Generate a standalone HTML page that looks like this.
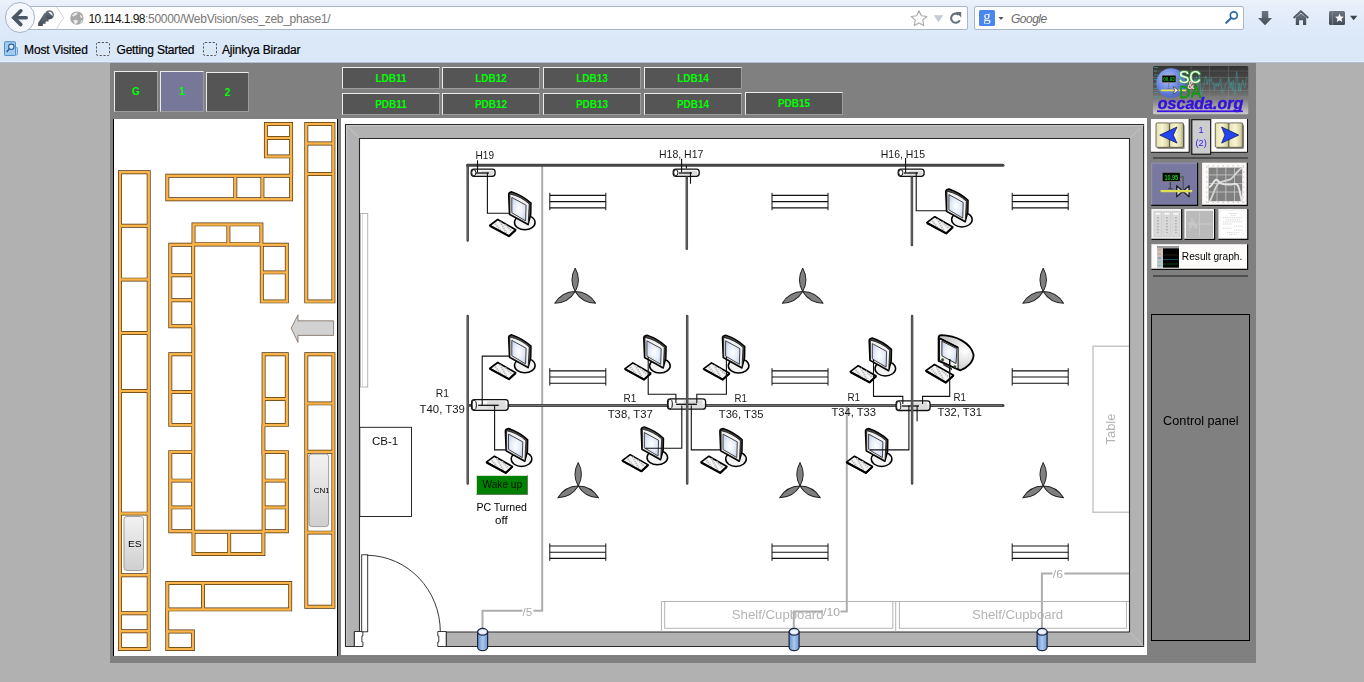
<!DOCTYPE html><html><head><meta charset="utf-8"><title>WebVision</title><style>
*{box-sizing:border-box;margin:0;padding:0}
html,body{width:1364px;height:682px;overflow:hidden;background:#b1b1b1;font-family:"Liberation Sans",Arial,sans-serif}
#chrome{position:absolute;left:0;top:0;width:1364px;height:63px;background:linear-gradient(#edf3fb 0,#e6eefa 8px,#deeaf9 30px,#dbe8f8 40px,#d9e7f7 63px)}
.abs{position:absolute}
#urlbar{position:absolute;left:22px;top:6px;width:946px;height:24px;background:#fff;border:1px solid #a9b7c9;border-radius:2px}
#searchbar{position:absolute;left:974px;top:6px;width:270px;height:24px;background:#fff;border:1px solid #a9b7c9;border-radius:2px}
#back{position:absolute;left:4.5px;top:2.3px;width:30.6px;height:30.6px;border-radius:50%;background:#f4f8fd;border:1px solid #a5b3c6}
.url{position:absolute;left:88.5px;top:12px;font-size:12px;line-height:14px;color:#111;white-space:nowrap;letter-spacing:-0.05px}
.url span{color:#777}
.bm{position:absolute;top:42.5px;font-size:12px;line-height:14px;color:#000;white-space:nowrap;-webkit-text-stroke:0.2px #000}
#page{position:absolute;left:110px;top:63px;width:1146px;height:600px;background:#808080}
.tb{position:absolute;background:#555;border:1px solid #ececec;border-right-color:#9c9c9c;border-bottom-color:#9c9c9c;color:#00ff00;font-weight:bold;font-size:10px;text-align:center}
svg{position:absolute;left:0;top:0;will-change:transform}
svg text{font-family:"Liberation Sans",Arial,sans-serif}
svg text.serif{font-family:"Liberation Serif",serif}
</style></head><body>
<div id="page"></div>
<div id="chrome">
<div class="abs" style="left:0;top:61px;width:1364px;height:1px;background:#e2eefb"></div><div class="abs" style="left:0;top:62px;width:1364px;height:1px;background:#adc0d8"></div><div id="urlbar"></div><div id="searchbar"></div><div id="back"></div>
<div class="url"><b style="font-weight:normal;letter-spacing:-0.55px">10.114.1.98</b><span style="letter-spacing:-0.28px">:50000/WebVision/ses_zeb_phase1/</span></div>
<div class="bm" style="left:24px;letter-spacing:-0.12px">Most Visited</div>
<div class="bm" style="left:116.5px;letter-spacing:-0.2px">Getting Started</div>
<div class="bm" style="left:222px;letter-spacing:-0.16px">Ajinkya Biradar</div>
<div class="abs" style="left:1011px;top:12px;font-size:12px;line-height:14px;font-style:italic;color:#6a6a6a;letter-spacing:-0.5px">Google</div>
</div>
<svg width="1364" height="63" viewBox="0 0 1364 63"><defs><linearGradient id="slate" x1="0" y1="0" x2="0" y2="1"><stop offset="0" stop-color="#6c7783"/><stop offset="1" stop-color="#434c56"/></linearGradient></defs><path d="M20.800 10.800 L13.800 17.700 L20.800 24.600 M14.500 17.700 H26.200" stroke="#4a5663" stroke-width="3.6" fill="none" stroke-linecap="round" stroke-linejoin="miter"/><path d="M44.600 12.800 L38.100 23 V26 H42.800 V23.800 H45.600 V21.400 H48.500 V19.400 L52 18.600 Z" fill="url(#slate)"/><circle cx="49.400" cy="14.800" r="4.500" fill="url(#slate)"/><path d="M48.300 11.900 A3.400 3.400 0 0 1 52.600 15.900 Z" fill="#fff"/><path d="M56.400 6.800 L63.700 17.700 L56.400 28.800" stroke="#cfd2d6" stroke-width="1" fill="none"/><circle cx="76.900" cy="18.100" r="6.700" fill="#a8a8a8"/><path d="M72 15.500 q2.500 -3.500 6 -3 q-1 2.500 -3 3 q-1.500 2 -3 0 M80.500 14.500 q2 1.500 2 4 q-1.500 -0.500 -2.500 -2 Z M73.500 20.500 q2.500 -1.500 4.500 0.500 q-0.500 2.500 -2.500 3 q-2 -1 -2 -3.500 M81 20.500 q1 0 1.500 -0.500 q-0.500 2 -2 3 Z" fill="#ececec"/><polygon points="919.0,10.8 921.3,15.8 926.8,16.5 922.7,20.2 923.8,25.6 919.0,22.9 914.2,25.6 915.3,20.2 911.2,16.5 916.7,15.8" fill="#fdfdfd" stroke="#ababab" stroke-width="1.1" stroke-linejoin="round"/><path d="M933.8 15.2 h9.4 l-4.7 7z" fill="#c3cad5"/><path d="M958.6 14.6 A4.6 4.6 0 1 0 959.8 20.3" stroke="#66717d" stroke-width="2.1" fill="none"/><path d="M955.6 12 h5.6 v5.4 z" fill="#66717d"/><rect x="979" y="10" width="16" height="16" rx="1.5" fill="#4a86f0"/><text x="987" y="21.2" font-size="15" fill="#fff" text-anchor="middle" class="serif">g</text><path d="M998.5 17 h5 l-2.5 3z" fill="#555"/><circle cx="1233.800" cy="15.300" r="3.500" stroke="#2d6cab" stroke-width="1.7" fill="none"/><path d="M1231.200 18 L1226.200 22.800" stroke="#2d6cab" stroke-width="2.1" stroke-linecap="round"/><path d="M1261.8 11 h6.500 v7 h3.800 l-7.050 7.300 l-7.050 -7.300 h3.800z" fill="url(#slate)"/><path d="M1293.600 18 L1300.900 11.300 L1308.300 18" fill="none" stroke="#515b67" stroke-width="2"/><path d="M1295.800 17.500 L1300.900 13.400 L1306.200 17.500 V24.900 H1303 V20.200 H1299.100 V24.900 H1295.800Z" fill="url(#slate)"/><rect x="1329" y="11" width="16" height="14" rx="1.500" fill="url(#slate)"/><rect x="1332" y="11" width="0.700" height="14" fill="#8a939d"/><polygon points="1339.5,13.6 1340.7,16.5 1343.9,16.8 1341.5,18.8 1342.2,21.9 1339.5,20.3 1336.8,21.9 1337.5,18.8 1335.1,16.8 1338.3,16.5" fill="#fff"/><path d="M1350 15.800 h7.300 l-3.650 4.400z" fill="#3c444d"/><rect x="15" y="47.500" width="2.500" height="7.500" rx="0.800" fill="#b4d3f0" stroke="#5c97cf" stroke-width=".8"/><rect x="4.500" y="41.700" width="11" height="13.800" rx="0.800" fill="#a3c9ed" stroke="#4f90cb" stroke-width="1"/><circle cx="11.300" cy="46.800" r="2.700" fill="#dcebf9" stroke="#2f5f94" stroke-width="1.100"/><path d="M9.400 48.800 L6.600 52" stroke="#2f5f94" stroke-width="1.500"/><rect x="96.5" y="42.5" width="13" height="13" rx="1.5" fill="none" stroke="#555" stroke-width="1" stroke-dasharray="2.2 1.6"/><rect x="203.5" y="42.5" width="13" height="13" rx="1.5" fill="none" stroke="#555" stroke-width="1" stroke-dasharray="2.2 1.6"/></svg>
<div class="tb" style="left:114px;top:71px;width:44px;height:41px;line-height:39px;">G</div>
<div class="tb" style="left:160px;top:71px;width:44px;height:41px;line-height:39px;background:#777799;">1</div>
<div class="tb" style="left:206px;top:72px;width:43px;height:40px;line-height:39px;">2</div>
<div class="tb" style="left:342px;top:67px;width:98px;height:22px;line-height:22px;">LDB11</div>
<div class="tb" style="left:342px;top:93px;width:98px;height:22px;line-height:22px;">PDB11</div>
<div class="tb" style="left:442px;top:67px;width:98px;height:22px;line-height:22px;">LDB12</div>
<div class="tb" style="left:442px;top:93px;width:98px;height:22px;line-height:22px;">PDB12</div>
<div class="tb" style="left:543px;top:67px;width:98px;height:22px;line-height:22px;">LDB13</div>
<div class="tb" style="left:543px;top:93px;width:98px;height:22px;line-height:22px;">PDB13</div>
<div class="tb" style="left:644px;top:67px;width:98px;height:22px;line-height:22px;">LDB14</div>
<div class="tb" style="left:644px;top:93px;width:98px;height:22px;line-height:22px;">PDB14</div>
<div class="tb" style="left:745px;top:92px;width:98px;height:22.5px;line-height:22.5px;">PDB15</div>
<svg width="1364" height="682" viewBox="0 0 1364 682" style="pointer-events:none"><defs><linearGradient id="gbox" x1="0" y1="0" x2="0" y2="1"><stop offset="0" stop-color="#f2f2f2"/><stop offset="1" stop-color="#cfcfcf"/></linearGradient></defs><rect x="113" y="119" width="225" height="537" fill="#fff"/><rect x="113" y="119" width="1" height="537" fill="#000"/><rect x="337" y="119" width="1" height="537" fill="#000"/><path d="M265.9 124.0 H291.1 V156.4 H265.9 Z M265.9 138.0 H291.1 M167.3 175.8 H291.1 V199.2 H167.3 Z M235.3 175.8 V199.2 M262.4 175.8 V199.2 M291.2 156 V176 M306.3 124.0 H333.4 V301.4 H306.3 Z M306.3 143.5 H333.4 M306.3 174.0 H333.4 M120.0 172.3 H148.7 V649.0 H120.0 Z M120.0 225.8 H148.7 M120.0 279.6 H148.7 M120.0 333.0 H148.7 M120.0 391.0 H148.7 M120.0 513.6 H148.7 M120.0 575.2 H148.7 M120.0 613.2 H148.7 M120.0 631.2 H148.7 M193.5 224.4 H261.4 V244.1 H193.5 Z M228.4 224.4 V244.1 M170.3 244.8 H193.2 V326.2 H170.3 Z M170.3 275.3 H193.2 M170.3 300.2 H193.2 M170.3 354.2 H193.2 V424.9 H170.3 Z M170.3 392.0 H193.2 M170.3 452.1 H193.2 V531.2 H170.3 Z M170.3 480.6 H193.2 M170.3 507.4 H193.2 M193.3 326 V455 M261.8 244.8 H286.8 V301.4 H261.8 Z M261.8 272.4 H286.8 M263.6 354.2 H286.8 V424.9 H263.6 Z M263.6 399.0 H286.8 M263.6 452.1 H286.8 V531.2 H263.6 Z M263.6 480.6 H286.8 M263.6 507.4 H286.8 M263.4 425 V455 M193 244.5 H262 M193.5 531.8 H263.4 V554.0 H193.5 Z M229.2 531.8 V554.0 M306.3 354.2 H333.4 V606.8 H306.3 Z M306.3 403.4 H333.4 M306.3 451.8 H333.4 M306.3 532.6 H333.4 M167.3 583.0 H290.2 V609.4 H167.3 Z M203.0 583.0 V609.4 M167.3 631.5 H192.9 V649.0 H167.3 Z M167.2 609 V632" fill="none" stroke="#4f3512" stroke-width="3.9" stroke-linejoin="miter"/><path d="M265.9 124.0 H291.1 V156.4 H265.9 Z M265.9 138.0 H291.1 M167.3 175.8 H291.1 V199.2 H167.3 Z M235.3 175.8 V199.2 M262.4 175.8 V199.2 M291.2 156 V176 M306.3 124.0 H333.4 V301.4 H306.3 Z M306.3 143.5 H333.4 M306.3 174.0 H333.4 M120.0 172.3 H148.7 V649.0 H120.0 Z M120.0 225.8 H148.7 M120.0 279.6 H148.7 M120.0 333.0 H148.7 M120.0 391.0 H148.7 M120.0 513.6 H148.7 M120.0 575.2 H148.7 M120.0 613.2 H148.7 M120.0 631.2 H148.7 M193.5 224.4 H261.4 V244.1 H193.5 Z M228.4 224.4 V244.1 M170.3 244.8 H193.2 V326.2 H170.3 Z M170.3 275.3 H193.2 M170.3 300.2 H193.2 M170.3 354.2 H193.2 V424.9 H170.3 Z M170.3 392.0 H193.2 M170.3 452.1 H193.2 V531.2 H170.3 Z M170.3 480.6 H193.2 M170.3 507.4 H193.2 M193.3 326 V455 M261.8 244.8 H286.8 V301.4 H261.8 Z M261.8 272.4 H286.8 M263.6 354.2 H286.8 V424.9 H263.6 Z M263.6 399.0 H286.8 M263.6 452.1 H286.8 V531.2 H263.6 Z M263.6 480.6 H286.8 M263.6 507.4 H286.8 M263.4 425 V455 M193 244.5 H262 M193.5 531.8 H263.4 V554.0 H193.5 Z M229.2 531.8 V554.0 M306.3 354.2 H333.4 V606.8 H306.3 Z M306.3 403.4 H333.4 M306.3 451.8 H333.4 M306.3 532.6 H333.4 M167.3 583.0 H290.2 V609.4 H167.3 Z M203.0 583.0 V609.4 M167.3 631.5 H192.9 V649.0 H167.3 Z M167.2 609 V632" fill="none" stroke="#fbb44a" stroke-width="2.5" stroke-linejoin="miter"/><path d="M291.2 328.2 L298 314.8 V320.8 H333.6 V335.4 H298 V342.4 Z" fill="#d2d2d2" stroke="#7a6a60" stroke-width="0.8"/><rect x="124" y="516.5" width="19.5" height="54" rx="3" fill="url(#gbox)" stroke="#8a8a8a" stroke-width="0.8"/><text x="128" y="547" font-size="9.5" fill="#000" textLength="13.6" lengthAdjust="spacingAndGlyphs">ES</text><rect x="309" y="454" width="19.6" height="72.6" rx="3" fill="url(#gbox)" stroke="#8a8a8a" stroke-width="0.8"/><clipPath id="cncl"><rect x="309" y="454" width="19.6" height="72.6"/></clipPath><text x="313.8" y="493" font-size="8" fill="#000" clip-path="url(#cncl)">CN1</text></svg>
<svg width="1364" height="682" viewBox="0 0 1364 682" style="pointer-events:none"><defs><radialGradient id="scr" cx=".5" cy=".5" r=".65"><stop offset="0" stop-color="#ffffff"/><stop offset=".55" stop-color="#e3eaf8"/><stop offset="1" stop-color="#bccdec"/></radialGradient><linearGradient id="cyl" x1="0" y1="0" x2="1" y2="0"><stop offset="0" stop-color="#5f95d4"/><stop offset=".5" stop-color="#adc7ea"/><stop offset="1" stop-color="#6a9cd8"/></linearGradient><linearGradient id="dev" x1="0" y1="0" x2="0" y2="1"><stop offset="0" stop-color="#fff"/><stop offset=".45" stop-color="#f4f4f4"/><stop offset=".55" stop-color="#e2e2e2"/><stop offset="1" stop-color="#ececec"/></linearGradient><radialGradient id="crt" cx=".75" cy=".45" r=".6"><stop offset="0" stop-color="#fff"/><stop offset="1" stop-color="#c9c9c9"/></radialGradient><g id="mon"><g transform="translate(0 0.8)"><ellipse cx="16.6" cy="30.4" rx="10.3" ry="7.3" fill="#f4f4f4" stroke="#000" stroke-width="1.5"/><path d="M0.4 2.3 Q0.6 0.3 3.6 -0.2 Q14.5 3.4 22.8 11.1 L22.6 22.5 L19.9 32.7 L1.2 22.3 Z" fill="#4a4a4a" stroke="#000" stroke-width="1.4" stroke-linejoin="round"/><path d="M1.7 2 Q12.8 4.4 21 12 L20 31.9 L1.8 21.9 Z" fill="#f2f2f2" stroke="#000" stroke-width="0.7"/><path d="M3.600 5.400 L17.900 13.200 L17.400 28.900 L3.600 20.700 Z" fill="url(#scr)" stroke="#333" stroke-width="0.9"/></g><path d="M-18.5 34.300 L-10.500 28.3 L7.5 38.6 L0.8 44.9 Z" fill="#f3f3f3" stroke="#000" stroke-width="1.6" stroke-linejoin="round"/><path d="M-13 32.5 L-6.5 40.5 M-8 30.5 L-1.500 42.5 M-3 33.500 L3 39.5" fill="none" stroke="#b9b9b9" stroke-width="1.800" stroke-dasharray="1.400 0.900"/><path d="M-18.300 34.6 L0.8 45 L7.5 38.8" fill="none" stroke="#000" stroke-width="2.1" stroke-linejoin="round"/></g><g id="crtm"><path d="M0.600 2.400 Q0.900 0.300 3.200 0.200 C18 0.400 33 8 35.600 19.800 C35.600 27 29 33 22.300 35.300 L0.600 25.900 Z" fill="url(#crt)" stroke="#000" stroke-width="1.800" stroke-linejoin="round"/><path d="M1.400 2.800 L20.100 12.100 L20.100 34.100 L1.400 25.400 Z" fill="#efefef" stroke="#000" stroke-width="1"/><path d="M3.900 6.200 L18.900 13.800 L18 28.500 L3.900 20.800 Z" fill="url(#scr)" stroke="#222" stroke-width="0.900"/><path d="M1.800 3.600 L20 12.700" stroke="#000" stroke-width="1.700"/><circle cx="4.600" cy="24.800" r="1.200" fill="#2c5c2c" stroke="#111" stroke-width="0.400"/><circle cx="16.800" cy="31.800" r="1.200" fill="#2c5c2c" stroke="#111" stroke-width="0.400"/><path d="M5.200 28.300 L14 33.300 L14 35.300 L5.200 30.300Z" fill="#3a3a3a"/><path d="M-12.200 35.700 L-3.500 29.500 L15.500 40.300 L7.800 47.500 Z" fill="#f3f3f3" stroke="#000" stroke-width="1.600" stroke-linejoin="round"/><path d="M-6.500 33.800 L0.500 42.500 M-1.500 32 L5.500 44.500 M4 35.500 L10.500 42" fill="none" stroke="#b9b9b9" stroke-width="1.800" stroke-dasharray="1.400 0.900"/><path d="M-12 36 L7.800 47.600 L15.500 40.500" fill="none" stroke="#000" stroke-width="2.100" stroke-linejoin="round"/></g><g id="fan" fill="#808080" stroke="#222" stroke-width="1" stroke-linejoin="round"><path d="M0 0 Q6.500 -11.700 0 -23.500 Q-6.500 -11.700 0 0Z"/><path d="M0 0 Q6.500 -11.700 0 -23.500 Q-6.500 -11.700 0 0Z" transform="rotate(120)"/><path d="M0 0 Q6.500 -11.700 0 -23.500 Q-6.500 -11.700 0 0Z" transform="rotate(240)"/></g><g id="bench" stroke="#111" fill="none"><path d="M0 -6.2 H56 M0 0 H56 M0 6.2 H56" stroke-width="1.15"/><path d="M0 -8.8 V8.6 M56 -8.8 V8.6" stroke-width="1"/></g><g id="bcyl"><path d="M0.6 4 V19.5 A5 3.4 0 0 0 10.6 19.5 V4 Z" fill="url(#cyl)" stroke="#1c2440" stroke-width="1.2"/><ellipse cx="5.6" cy="4" rx="5" ry="3.4" fill="#cfe0f5" stroke="#1c2440" stroke-width="1.2"/><ellipse cx="5.6" cy="4" rx="3.4" ry="1.9" fill="#f2f6fc"/></g></defs><rect x="341" y="118" width="806" height="537" fill="#fff"/><path d="M345.5 124.5 H1143.6 V646.5 H446.3 V632 H1129.5 V138.5 H359.5 V632 H354.4 V646.5 H345.5 Z" fill="#b2b2b2" stroke="#2a2a2a" stroke-width="1.1" stroke-linejoin="miter"/><path d="M346.6 646 V125.7 H1143" fill="none" stroke="#c9c9c9" stroke-width="0.9"/><path d="M346.5 125.5 L359 138 M1143.5 125.5 L1130 138 M1143.5 646 L1130 632.500" stroke="#c6c6c6" stroke-width="0.9"/><path d="M354.4 631.5 H362.9 V636 H361.9 V642 H362.9 V646.5 H354.4 Z" fill="#fff" stroke="#222" stroke-width="0.9"/><path d="M446.2 631.500 H437.8 V636 H438.800 V642 H437.8 V646.5 H446.200 Z" fill="#fff" stroke="#222" stroke-width="0.9"/><rect x="361.7" y="554.8" width="6" height="77" fill="#fff" stroke="#222" stroke-width="0.9"/><path d="M367.7 555.3 A 74 76.500 0 0 1 440.300 631.500" fill="none" stroke="#222" stroke-width="0.9"/><rect x="360.500" y="213.500" width="7.200" height="173.500" fill="#fff" stroke="#b2b2b2" stroke-width="1"/><path d="M362.500 214 V386.500" stroke="#dcdcdc" stroke-width="1"/><path d="M542.2 165.500 V610.8 H533.5 M522.5 610.8 H482.5 V628" fill="none" stroke="#adadad" stroke-width="2"/><path d="M846.8 407 V611.6 H840.500 M823 611.6 H793.8 V628" fill="none" stroke="#adadad" stroke-width="2"/><path d="M1129 573.4 H1064.300 M1052.500 573.4 H1041.900 V628" fill="none" stroke="#adadad" stroke-width="2"/><path d="M1129 346.300 H1093 V512.200 H1129" fill="none" stroke="#c6c6c6" stroke-width="1.500"/><path d="M661.400 631.500 V601.500 H895.700 V631.500" fill="none" stroke="#b4b4b4" stroke-width="1"/><rect x="664.700" y="601.500" width="228.100" height="26.800" fill="none" stroke="#b4b4b4" stroke-width="1"/><path d="M895.700 601.500 H1129" fill="none" stroke="#b4b4b4" stroke-width="1"/><rect x="899.400" y="601.500" width="227" height="26.800" fill="none" stroke="#b4b4b4" stroke-width="1"/><text x="731.8" y="619" font-size="13.2" fill="#b4b4b4" textLength="91.7" lengthAdjust="spacingAndGlyphs">Shelf/Cupboard</text><text x="971.9" y="619" font-size="13.2" fill="#b4b4b4" textLength="91.3" lengthAdjust="spacingAndGlyphs">Shelf/Cupboard</text><text transform="translate(1115 444.4) rotate(-90)" font-size="12.5" fill="#b4b4b4" textLength="30.8" lengthAdjust="spacingAndGlyphs">Table</text><text x="522.600" y="615.6" font-size="10.5" fill="#a9a9a9" textLength="9.6" lengthAdjust="spacingAndGlyphs">/5</text><text x="823" y="616.4" font-size="10.500" fill="#a9a9a9" textLength="17" lengthAdjust="spacingAndGlyphs">/10</text><text x="1052.800" y="578.2" font-size="10.500" fill="#a9a9a9" textLength="10.200" lengthAdjust="spacingAndGlyphs">/6</text><rect x="359.8" y="427.300" width="51.7" height="89.2" fill="#fff" stroke="#111" stroke-width="0.9"/><text x="371.9" y="444.800" font-size="11.600" fill="#111" textLength="26.400" lengthAdjust="spacingAndGlyphs">CB-1</text><use href="#bench" x="549.8" y="201.6"/><use href="#bench" x="549.8" y="377.0"/><use href="#bench" x="549.8" y="552.2"/><use href="#bench" x="772.0" y="201.6"/><use href="#bench" x="772.0" y="377.0"/><use href="#bench" x="772.0" y="552.2"/><use href="#bench" x="1012.2" y="201.6"/><use href="#bench" x="1012.2" y="377.0"/><use href="#bench" x="1012.2" y="552.2"/><use href="#fan" x="575.2" y="291.6"/><use href="#fan" x="802.7" y="291.6"/><use href="#fan" x="1043.2" y="291.6"/><use href="#fan" x="578.2" y="486.0"/><use href="#fan" x="800.0" y="486.0"/><use href="#fan" x="1043.2" y="486.0"/><path d="M467.600 165.2 H1003" fill="none" stroke="#454545" stroke-width="3" stroke-linecap="round"/><path d="M509 405.400 H1003" fill="none" stroke="#454545" stroke-width="3" stroke-linecap="round"/><path d="M469 405.400 H471" stroke="#454545" stroke-width="2.6"/><path d="M510 405.400 H1002" stroke="#8c8c8c" stroke-width="0.700"/><rect x="471.2" y="169.1" width="23.9" height="7.2" rx="2.8" ry="2.8" fill="url(#dev)" stroke="#111" stroke-width="1.3"/><rect x="481.2" y="170.7" width="11.9" height="4.0" fill="#dcdcdc"/><ellipse cx="473.8" cy="172.7" rx="2.1" ry="3.0" fill="#fff" stroke="#111" stroke-width="1"/><path d="M476.0 173.0 H489.0" stroke="#111" stroke-width="1.3"/><rect x="673.2" y="169.1" width="26.0" height="7.2" rx="2.8" ry="2.8" fill="url(#dev)" stroke="#111" stroke-width="1.3"/><rect x="684.1" y="170.7" width="13.0" height="4.0" fill="#dcdcdc"/><ellipse cx="675.8" cy="172.7" rx="2.1" ry="3.0" fill="#fff" stroke="#111" stroke-width="1"/><path d="M679.0 173.0 H692.0" stroke="#111" stroke-width="1.3"/><rect x="898.2" y="169.1" width="25.9" height="7.2" rx="2.8" ry="2.8" fill="url(#dev)" stroke="#111" stroke-width="1.3"/><rect x="909.1" y="170.7" width="12.9" height="4.0" fill="#dcdcdc"/><ellipse cx="900.8" cy="172.7" rx="2.1" ry="3.0" fill="#fff" stroke="#111" stroke-width="1"/><path d="M904.0 173.0 H918.0" stroke="#111" stroke-width="1.3"/><rect x="471.6" y="399.7" width="36.6" height="10.7" rx="2.8" ry="2.8" fill="url(#dev)" stroke="#111" stroke-width="1.3"/><rect x="487.0" y="401.3" width="18.3" height="7.5" fill="#dcdcdc"/><ellipse cx="474.2" cy="405.0" rx="2.1" ry="4.7" fill="#fff" stroke="#111" stroke-width="1"/><path d="M478.2 405.3 H498.7" stroke="#111" stroke-width="1.3"/><rect x="667.6" y="398.8" width="38.0" height="10.4" rx="2.8" ry="2.8" fill="url(#dev)" stroke="#111" stroke-width="1.3"/><rect x="683.6" y="400.4" width="19.0" height="7.2" fill="#dcdcdc"/><ellipse cx="670.2" cy="404.0" rx="2.1" ry="4.6" fill="#fff" stroke="#111" stroke-width="1"/><path d="M676.0 404.3 H697.0" stroke="#111" stroke-width="1.3"/><rect x="896.1" y="400.9" width="34.0" height="9.6" rx="2.8" ry="2.8" fill="url(#dev)" stroke="#111" stroke-width="1.3"/><rect x="910.4" y="402.5" width="17.0" height="6.4" fill="#dcdcdc"/><ellipse cx="898.7" cy="405.7" rx="2.1" ry="4.2" fill="#fff" stroke="#111" stroke-width="1"/><path d="M902.0 406.0 H919.0" stroke="#111" stroke-width="1.3"/><path d="M467.7 165 V240.500 M467.7 316 V483.500 M686.8 177.500 V248.800 M687.2 316 V483.500 M911.900 177.500 V245 M912.1 316 V483.500" fill="none" stroke="#484848" stroke-width="2.500" stroke-linecap="round"/><path d="M467.7 167 V240 M467.7 316.500 V483 M686.8 179 V248.300 M687.2 316.500 V483 M911.900 179 V244.500 M912.1 316.500 V483" fill="none" stroke="#777" stroke-width="0.6"/><use href="#mon" x="508.2" y="191.2"/><use href="#mon" x="945.3" y="188.4"/><use href="#mon" x="508.2" y="334.2"/><use href="#mon" x="643.3" y="334.6"/><use href="#mon" x="722.0" y="334.6"/><use href="#mon" x="868.7" y="337.4"/><use href="#mon" x="504.9" y="427.9"/><use href="#mon" x="640.7" y="426.3"/><use href="#mon" x="719.4" y="427.9"/><use href="#mon" x="865.0" y="427.9"/><use href="#crtm" x="938" y="335"/><path d="M949.7 359 V372" fill="none" stroke="#111" stroke-width="1.1"/><path d="M477.500 160.3 V172.6 M487.4 172.600 V213.2 H509 M681.6 158.8 V172.300 M690.5 172.300 V183.8 M686.4 165.5 V168.5 M905.600 158 V172.600 M916.200 172.600 V210.7 H946 M509 356.100 H482.2 V405.400 M494.600 405.400 V449.9 H506 M648.2 357 V394.200 H675.9 V403 M726.4 357 V394.200 H696.8 V403 M681.8 405.400 V448.3 H645 M691.3 405.400 V449.9 H720 M873.5 359.500 V396.400 H902.8 V404 M949.7 359 V396.400 H922.6 V404 M908.9 405.400 V449.9 H870 M917.1 405.400 V421.3" fill="none" stroke="#111" stroke-width="1.1"/><text x="475.6" y="159.2" font-size="10.8" fill="#1a1a1a" textLength="18.4" lengthAdjust="spacingAndGlyphs">H19</text><text x="659.0" y="158.4" font-size="10.8" fill="#1a1a1a" textLength="44.3" lengthAdjust="spacingAndGlyphs">H18, H17</text><text x="880.8" y="157.7" font-size="10.8" fill="#1a1a1a" textLength="44.2" lengthAdjust="spacingAndGlyphs">H16, H15</text><text x="435.7" y="397.1" font-size="11.2" fill="#1a1a1a" textLength="13.2" lengthAdjust="spacingAndGlyphs">R1</text><text x="419.6" y="412.5" font-size="11.2" fill="#1a1a1a" textLength="45.3" lengthAdjust="spacingAndGlyphs">T40, T39</text><text x="623.5" y="402.2" font-size="11.2" fill="#1a1a1a" textLength="12.8" lengthAdjust="spacingAndGlyphs">R1</text><text x="607.7" y="418.0" font-size="11.2" fill="#1a1a1a" textLength="45.1" lengthAdjust="spacingAndGlyphs">T38, T37</text><text x="734.6" y="402.2" font-size="11.2" fill="#1a1a1a" textLength="12.4" lengthAdjust="spacingAndGlyphs">R1</text><text x="718.8" y="418.0" font-size="11.2" fill="#1a1a1a" textLength="44.6" lengthAdjust="spacingAndGlyphs">T36, T35</text><text x="847.4" y="400.8" font-size="11.2" fill="#1a1a1a" textLength="12.6" lengthAdjust="spacingAndGlyphs">R1</text><text x="831.4" y="416.2" font-size="11.2" fill="#1a1a1a" textLength="44.6" lengthAdjust="spacingAndGlyphs">T34, T33</text><text x="953.4" y="400.8" font-size="11.2" fill="#1a1a1a" textLength="12.5" lengthAdjust="spacingAndGlyphs">R1</text><text x="937.5" y="416.4" font-size="11.2" fill="#1a1a1a" textLength="44.5" lengthAdjust="spacingAndGlyphs">T32, T31</text><rect x="476.500" y="475.500" width="51" height="19" fill="#008000"/><path d="M476.500 494.500 V475.500 H527.5" fill="none" stroke="#cfe3cf" stroke-width="1"/><path d="M476.500 494.500 H527.5 V475.500" fill="none" stroke="#5c7f5c" stroke-width="1"/><text x="482.5" y="488.0" font-size="10.3" fill="#001000" textLength="39.6" lengthAdjust="spacingAndGlyphs">Wake up</text><text x="476.4" y="510.8" font-size="10.3" fill="#000" textLength="50.5" lengthAdjust="spacingAndGlyphs">PC Turned</text><text x="495.0" y="523.6" font-size="10.3" fill="#000" textLength="12.6" lengthAdjust="spacingAndGlyphs">off</text><use href="#bcyl" x="477.0" y="627.8"/><use href="#bcyl" x="788.5" y="627.8"/><use href="#bcyl" x="1036.5" y="627.8"/></svg>
<svg width="1364" height="682" viewBox="0 0 1364 682" style="pointer-events:none"><defs><linearGradient id="lg1" x1="0" y1="0" x2="0" y2="1"><stop offset="0" stop-color="#333"/><stop offset=".45" stop-color="#585858"/><stop offset=".72" stop-color="#858585"/><stop offset="1" stop-color="#cdcdcd"/></linearGradient><radialGradient id="ball" cx=".4" cy=".35" r=".7"><stop offset="0" stop-color="#b4c4f2"/><stop offset=".55" stop-color="#6c88e2"/><stop offset="1" stop-color="#4a62c8"/></radialGradient><linearGradient id="book" x1="0" y1="0" x2="1" y2="0"><stop offset="0" stop-color="#e4e0b4"/><stop offset=".45" stop-color="#f8f5d0"/><stop offset=".8" stop-color="#dcd8aa"/><stop offset="1" stop-color="#a8a47e"/></linearGradient></defs><clipPath id="lgc"><rect x="1153" y="66" width="95.500" height="48.500" rx="1.800"/></clipPath><g clip-path="url(#lgc)"><rect x="1153" y="66" width="95.500" height="48.500" fill="url(#lg1)"/><path d="M1153 71 H1249 M1153 77.500 H1249 M1153 84 H1249 M1153 90.500 H1249 M1153 97 H1249 M1191 66 V100 M1209.500 66 V100 M1228.500 66 V100" stroke="#9a9a9a" stroke-width="0.5" opacity=".55"/><polyline points="1184.0,81.4 1185.0,84.4 1186.1,92.7 1187.1,82.8 1188.2,83.9 1189.2,85.4 1190.3,79.9 1191.3,84.7 1192.4,86.0 1193.4,87.9 1194.5,78.8 1195.5,81.0 1196.6,76.5 1197.6,89.7 1198.7,87.5 1199.7,72.0 1200.8,95.3 1201.8,94.4 1202.9,86.7 1203.9,85.8 1205.0,77.4 1206.0,76.0 1207.1,84.6 1208.1,79.1 1209.2,81.6 1210.2,81.8 1211.3,78.2 1212.3,83.5 1213.4,82.8 1214.4,90.2 1215.5,83.7 1216.5,86.4 1217.6,82.8 1218.6,86.9 1219.7,82.1 1220.7,78.7 1221.8,93.0 1222.8,92.2 1223.9,89.2 1224.9,87.0 1226.0,82.7 1227.0,81.8 1228.1,81.7 1229.1,77.8 1230.2,88.4 1231.2,81.7 1232.3,90.7 1233.3,80.5 1234.4,94.4 1235.4,91.7 1236.5,71.4 1237.5,77.1 1238.6,91.5 1239.6,83.3 1240.7,91.4 1241.7,83.0 1242.8,79.9 1243.8,86.0 1244.9,87.9 1245.9,80.9 1247.0,77.1" fill="none" stroke="#39b0ae" stroke-width="0.8" opacity=".55"/><path d="M1154 67.500 h4 M1154 71 h3 M1154 75 h4 M1154 79.500 h3 M1154 84 h3 M1154 88.500 h3 M1154 92.500 h4 M1154 96.500 h4" stroke="#2fae9c" stroke-width="0.9" opacity=".7"/><circle cx="1171" cy="83" r="14.700" fill="url(#ball)"/><rect x="1162" y="75.200" width="14" height="7.200" rx="0.800" fill="#050c05" stroke="#8d8d8d" stroke-width="0.7"/><text x="1163.300" y="80.900" font-size="5.600" fill="#1fb81f" font-weight="bold" textLength="11.400" lengthAdjust="spacingAndGlyphs">00.93</text><path d="M1168.700 82.500 V88.700 M1166.800 88.700 H1170.600 M1176.100 78.800 H1178.300 V88" fill="none" stroke="#70757f" stroke-width="0.8"/><path d="M1160.700 90.300 H1186" stroke="#e2e24e" stroke-width="1.700"/><path d="M1173.300 86.500 L1178.600 90.300 L1173.300 94.400 L1174.500 90.300Z" fill="#e8e8e8" stroke="#3a3a3a" stroke-width="0.7" stroke-linejoin="round"/><text x="1178.700" y="82.500" font-size="16.900" fill="#36c236" stroke="#36c236" stroke-width="1.700" opacity=".75" textLength="22.200" lengthAdjust="spacingAndGlyphs">SC</text><text x="1178.700" y="82.500" font-size="16.900" fill="#fbfffb" textLength="22.200" lengthAdjust="spacingAndGlyphs">SC</text><text x="1179.100" y="97.700" font-size="16.200" fill="#0c9c0c" stroke="#0c9c0c" stroke-width="0.300" textLength="22.200" lengthAdjust="spacingAndGlyphs">DA</text><text x="1187.200" y="89.300" font-size="11" fill="#f8cfc2" font-weight="bold" textLength="7.200" lengthAdjust="spacingAndGlyphs">&amp;</text><text x="1157.800" y="108.500" font-size="16.800" font-style="italic" font-weight="bold" fill="#3410dc" stroke="#3410dc" stroke-width="0.450" textLength="85.400" lengthAdjust="spacingAndGlyphs">oscada.org</text><rect x="1157" y="110.400" width="85.800" height="1.700" fill="#3a10e4"/></g><rect x="1151.0" y="119" width="38.2" height="33.300" fill="#fdfbfb"/><path d="M1151.0 152.300 H1189.2 V119" fill="none" stroke="#111" stroke-width="1"/><rect x="1157.2" y="124.500" width="27.500" height="24.500" rx="1.500" fill="#3a3a30" opacity=".55"/><rect x="1156.0" y="122.900" width="13.900" height="24.400" rx="1.200" fill="url(#book)" stroke="#3c3a2a" stroke-width="0.700"/><rect x="1169.6" y="122.900" width="13.900" height="24.400" rx="1.200" fill="url(#book)" stroke="#3c3a2a" stroke-width="0.700"/><path d="M1159.8 135.100 L1177.0 127 L1173.2 135.100 L1177.0 143.100 Z" fill="#2346ee" stroke="#101a60" stroke-width="0.800" stroke-linejoin="round"/><rect x="1210.7" y="119" width="36.8" height="33.300" fill="#fdfbfb"/><path d="M1210.7 152.300 H1247.5 V119" fill="none" stroke="#111" stroke-width="1"/><rect x="1216.5" y="124.500" width="27.500" height="24.500" rx="1.500" fill="#3a3a30" opacity=".55"/><rect x="1215.3" y="122.900" width="13.900" height="24.400" rx="1.200" fill="url(#book)" stroke="#3c3a2a" stroke-width="0.700"/><rect x="1228.9" y="122.900" width="13.900" height="24.400" rx="1.200" fill="url(#book)" stroke="#3c3a2a" stroke-width="0.700"/><path d="M1238.7 135.100 L1221.6 127 L1225.0 135.100 L1221.6 143.100 Z" fill="#2346ee" stroke="#101a60" stroke-width="0.800" stroke-linejoin="round"/><rect x="1191.800" y="119.700" width="18.900" height="34.500" fill="#cdcdcd" stroke="#0c0c0c" stroke-width="1.100"/><text x="1201.100" y="132.600" font-size="9.200" fill="#3322f4" text-anchor="middle">1</text><text x="1201.100" y="145.600" font-size="9.200" fill="#3322f4" text-anchor="middle">(2)</text><rect x="1153" y="157.200" width="95" height="1.600" fill="#444"/><rect x="1153" y="275.200" width="95" height="1.600" fill="#444"/><rect x="1151.200" y="162.700" width="46.400" height="42.700" fill="#7878a0"/><path d="M1151.700 205 V163.200 H1197" fill="none" stroke="#9494b4" stroke-width="1"/><path d="M1151.200 205.400 H1197.600 V162.700" fill="none" stroke="#0a0a0a" stroke-width="1.200"/><rect x="1162.100" y="172.200" width="18.300" height="9.500" rx="1.300" fill="#040a04" stroke="#8c8c8c" stroke-width="0.900"/><text x="1164.400" y="179.500" font-size="7.400" font-weight="bold" fill="#1fc01f" textLength="13.800" lengthAdjust="spacingAndGlyphs">10.95</text><path d="M1180.400 176.900 H1183.200 V189.400" fill="none" stroke="#50505c" stroke-width="1.200"/><path d="M1170.300 182.100 V188.800 M1168 188.800 H1172.800" stroke="#3c3c48" stroke-width="1.100"/><path d="M1176.700 185.700 L1189.100 196.800 V185.700 L1176.700 196.800 Z" fill="#d4d4d6" stroke="#24242c" stroke-width="1.400" stroke-linejoin="round"/><path d="M1160.600 191.100 H1192.200" stroke="#dede52" stroke-width="2.300"/><rect x="1202.100" y="162.700" width="45.200" height="42.700" fill="#fdf9f9"/><path d="M1202.100 205.400 H1247.300 V162.700" fill="none" stroke="#0a0a0a" stroke-width="1.200"/><rect x="1208.600" y="167.600" width="33.600" height="33.600" fill="#808080"/><path d="M1217 167.600 V201.200 M1225.800 167.600 V201.200 M1234.500 167.600 V201.200 M1208.600 174.900 H1242.200 M1208.600 183.600 H1242.200 M1208.600 192 H1242.200" stroke="#c9c9c9" stroke-width="0.800"/><path d="M1207.500 165.800 H1244 M1207.500 202.300 H1244" stroke="#c4c4c4" stroke-width="1.200" stroke-dasharray="1.300 3.700"/><path d="M1206.700 166.500 V203 M1243.500 166.500 V203" stroke="#c4c4c4" stroke-width="1.200" stroke-dasharray="1.300 3.700"/><path d="M1209.800 201.200 C1213 196 1215 186 1218.900 182.900 C1221 181.500 1227 180.500 1230.300 179.400 C1233 178 1237 171 1241.800 168" fill="none" stroke="#d6d6d6" stroke-width="1.800"/><path d="M1209 187.100 C1212 187 1213.500 180.200 1216.200 179.800 C1218.500 179.800 1219 183.200 1221.200 183.600 C1225 184.600 1229 184.600 1231.900 184.400 C1234 184 1236.500 182.500 1238.200 186 C1239.800 190 1240.800 197 1241.800 201.200" fill="none" stroke="#e4e4e4" stroke-width="2"/><rect x="1151.4" y="209" width="30.2" height="30.400" fill="#f4f4f4"/><path d="M1151.4 239.400 H1181.6 V209" fill="none" stroke="#0a0a0a" stroke-width="1.200"/><rect x="1184.4" y="209" width="30.2" height="30.400" fill="#f4f4f4"/><path d="M1184.4 239.400 H1214.6 V209" fill="none" stroke="#0a0a0a" stroke-width="1.200"/><rect x="1218.4" y="209" width="29.4" height="30.400" fill="#f4f4f4"/><path d="M1218.4 239.400 H1247.8 V209" fill="none" stroke="#0a0a0a" stroke-width="1.200"/><rect x="1153.9" y="211.500" width="8" height="25.500" fill="#d9d9d9" stroke="#bdbdbd" stroke-width="0.5"/><path d="M1157.9 217 V233" stroke="#aaa" stroke-width="1.500" stroke-dasharray="1.500 1.500"/><rect x="1155.4" y="213" width="5" height="1.500" fill="#f8f8f8"/><rect x="1162.9" y="211.500" width="8" height="25.500" fill="#d9d9d9" stroke="#bdbdbd" stroke-width="0.5"/><path d="M1166.9 217 V233" stroke="#aaa" stroke-width="1.500" stroke-dasharray="1.500 1.500"/><rect x="1164.4" y="213" width="5" height="1.500" fill="#f8f8f8"/><rect x="1171.9" y="211.500" width="8" height="25.500" fill="#d9d9d9" stroke="#bdbdbd" stroke-width="0.5"/><path d="M1175.9 217 V233" stroke="#aaa" stroke-width="1.500" stroke-dasharray="1.500 1.500"/><rect x="1173.4" y="213" width="5" height="1.500" fill="#f8f8f8"/><rect x="1186" y="210.800" width="27" height="27.200" fill="#bababa"/><path d="M1199.500 211.500 V237 M1187 224 H1212" stroke="#cfcfcf" stroke-width="0.7"/><path d="M1189 231 l1 -9 l1 6 l1 -10 l1 8 l1 -5 l1 7 l1 -4 l1 5" fill="none" stroke="#cdcdcd" stroke-width="0.7"/><rect x="1220.500" y="211" width="25" height="26.500" fill="#fff"/><path d="M1229 213.5 H1238 M1231 215.6 H1236 M1223 217.7 H1243 M1226 219.8 H1240 M1223 221.9 H1243 M1223 224.0 H1232 M1234 226.1 H1243 M1223 228.2 H1232 M1234 230.3 H1243 M1227 232.4 H1239 M1229 234.5 H1237" stroke="#bcbcbc" stroke-width="0.6" stroke-dasharray="1.2 .6"/><rect x="1151.400" y="244.200" width="96.200" height="25.200" fill="#fdfafa"/><path d="M1151.400 269.400 H1247.600 V244.200" fill="none" stroke="#0a0a0a" stroke-width="1.200"/><rect x="1157" y="246" width="6" height="21.700" fill="#c4c4c4"/><rect x="1157" y="246" width="22" height="2.300" fill="#9c9c9c"/><path d="M1158 250 h3 M1158 254 h3" stroke="#e08a3a" stroke-width="0.8"/><path d="M1158 258 h3" stroke="#4a6ad8" stroke-width="0.8"/><path d="M1158 262 h3 M1158 265.500 h3" stroke="#4ac8c8" stroke-width="0.8"/><rect x="1163" y="248.300" width="16" height="19.400" fill="#030303"/><path d="M1163 255 H1178" stroke="#3a2a1a" stroke-width="0.7"/><path d="M1163 259.500 H1178" stroke="#1a5a6a" stroke-width="0.9"/><path d="M1163 264 H1178" stroke="#0f4a1a" stroke-width="0.9"/><text x="1181.800" y="260" font-size="10.200" fill="#000" textLength="60.500" lengthAdjust="spacingAndGlyphs">Result graph.</text><rect x="1151.500" y="314.500" width="98" height="326" fill="none" stroke="#000" stroke-width="1"/><text x="1163.100" y="424.800" font-size="13.200" fill="#000" textLength="75.500" lengthAdjust="spacingAndGlyphs">Control panel</text></svg>
</body></html>
